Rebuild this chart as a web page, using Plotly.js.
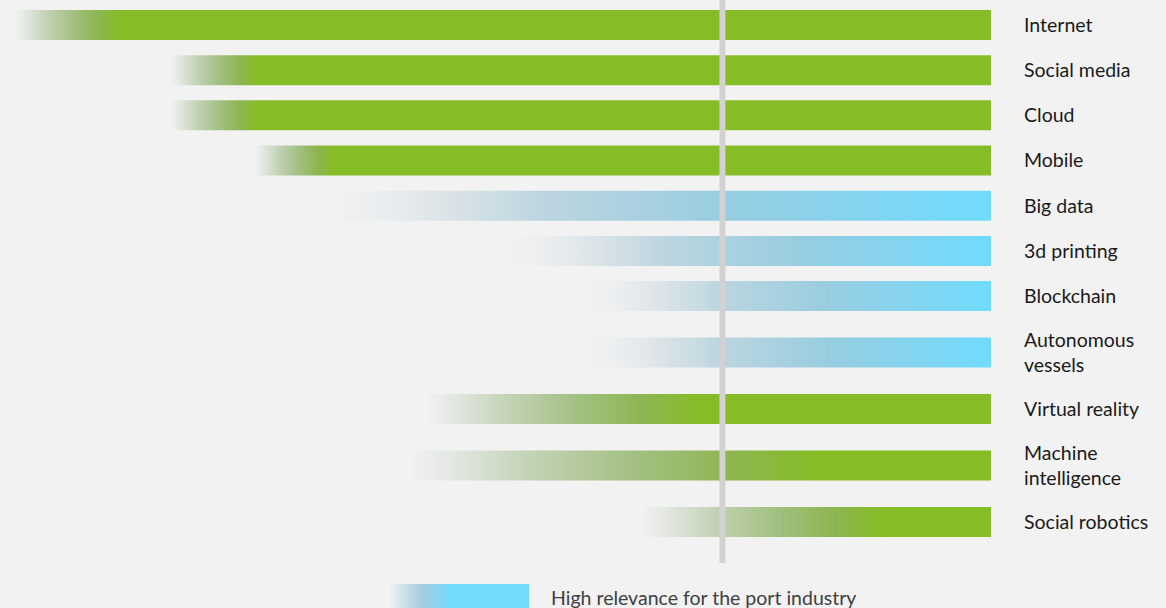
<!DOCTYPE html>
<html>
<head>
<meta charset="utf-8">
<script src="https://cdn.plot.ly/plotly-3.0.1.min.js"></script>
<style>
  html, body { margin: 0; padding: 0; background: #f2f2f2; }
  #chart { width: 1166px; height: 608px; }
</style>
</head>
<body>
<div id="chart"></div>
<script>
// ---------- data ----------
const categories = ['Internet', 'Social media', 'Cloud', 'Mobile', 'Big data', '3d printing',
  'Blockchain', 'Autonomous vessels', 'Virtual reality', 'Machine intelligence', 'Social robotics'];
const tickLabels = ['Internet', 'Social media', 'Cloud', 'Mobile', 'Big data', '3d printing',
  'Blockchain', 'Autonomous<br>vessels', 'Virtual reality', 'Machine<br>intelligence', 'Social robotics'];
const barStart     = [1.6, 17.3, 17.3, 25.8, 31.8, 50.5, 58.7, 58.7, 43.2, 41.6, 64.9];
const fullColourAt = [12.1, 26.0, 26.0, 33.6, 100, 100, 100, 100, 70.6, 82.2, 89.1];
const barEnd       = [100, 100, 100, 100, 100, 100, 100, 100, 100, 100, 100];
const highRelevance = [false, false, false, false, true, true, true, true, false, false, false];
const referenceLine = 72.9;
const legendText = 'High relevance for the port industry';

// ---------- styles ----------
const GREEN = 'rgb(134,188,37)';
const CYAN = 'rgb(112,219,253)';
const greenScale = [
  [0, 'rgb(240,241,240)'], [0.1, 'rgb(226,231,225)'], [0.3, 'rgb(194,210,181)'],
  [0.55, 'rgb(163,192,130)'], [0.8, 'rgb(141,181,80)'], [1, GREEN]
];
const blueScale = [
  [0, 'rgb(242,242,242)'], [0.08, 'rgb(236,239,240)'], [0.18, 'rgb(222,229,233)'],
  [0.34, 'rgb(188,213,223)'], [0.6, 'rgb(152,205,224)'], [1, CYAN]
];
const legendScale = [[0, 'rgb(242,242,242)'], [0.5, 'rgb(165,205,222)'], [1, CYAN]];
const FONT = 'Lato, "Open Sans", sans-serif';

// row positions derived from number of label lines
const lineCount = tickLabels.map(t => t.split('<br>').length);
const rowSize = lineCount.map(n => 1 + 0.5 * (n - 1));
const rowPos = [];
rowSize.forEach((s, i) => {
  rowPos.push(i === 0 ? 0 : rowPos[i - 1] + (rowSize[i - 1] + s) / 2);
});
const unitPx = 45.18;
const halfBar = 15 / unitPx;

const traces = categories.map((name, i) => {
  const y0 = rowPos[i] - halfBar, y1 = rowPos[i] + halfBar;
  return {
    type: 'scatter', mode: 'none', name: name,
    x: [barStart[i], barEnd[i], barEnd[i], barStart[i], barStart[i]],
    y: [y0, y0, y1, y1, y0],
    fill: 'toself',
    fillgradient: {
      type: 'horizontal',
      colorscale: highRelevance[i] ? blueScale : greenScale,
      start: barStart[i],
      stop: fullColourAt[i]
    },
    hoverinfo: 'skip',
    showlegend: false
  };
});

// legend swatch
const swatchX = [39.2, 53.4];
const swatchFull = 45.7;
traces.push({
  type: 'scatter', mode: 'none', xaxis: 'x2', yaxis: 'y2',
  x: [swatchX[0], swatchX[1], swatchX[1], swatchX[0], swatchX[0]],
  y: [0, 0, 1, 1, 0],
  fill: 'toself',
  fillgradient: { type: 'horizontal', colorscale: legendScale, start: swatchX[0], stop: swatchFull },
  hoverinfo: 'skip', showlegend: false
});

const plotDomainBottom = 1 - 563 / 608;
const layout = {
  width: 1166, height: 608,
  margin: { l: 0, r: 0, t: 0, b: 0 },
  paper_bgcolor: '#f2f2f2', plot_bgcolor: '#f2f2f2',
  showlegend: false,
  xaxis: { domain: [0, 991 / 1166], range: [0, 100], visible: false, fixedrange: true },
  yaxis: {
    domain: [plotDomainBottom, 1],
    range: [538 / unitPx, -25 / unitPx],
    side: 'right',
    tickmode: 'array', tickvals: rowPos, ticktext: tickLabels,
    showgrid: false, zeroline: false, showline: false, ticks: '',
    ticklabelstandoff: 32,
    tickfont: { family: FONT, size: 19.5, color: '#1a1a1a' },
    fixedrange: true
  },
  xaxis2: { domain: [0, 991 / 1166], range: [0, 100], visible: false, anchor: 'y2', fixedrange: true },
  yaxis2: { domain: [0, 24 / 608], range: [0, 1], visible: false, anchor: 'x2', fixedrange: true },
  shapes: [{
    type: 'line', xref: 'x', yref: 'y domain',
    x0: referenceLine, x1: referenceLine, y0: 0, y1: 1,
    line: { color: 'rgb(210,210,210)', width: 6 }, layer: 'above'
  }],
  annotations: [{
    text: legendText, xref: 'paper', yref: 'paper',
    x: 549 / 1166, y: 1 - 597 / 608, xanchor: 'left', yanchor: 'middle',
    showarrow: false,
    font: { family: FONT, size: 19.5, color: '#404040' }
  }]
};

Plotly.newPlot('chart', traces, layout, { displayModeBar: false, staticPlot: true });
</script>
</body>
</html>
